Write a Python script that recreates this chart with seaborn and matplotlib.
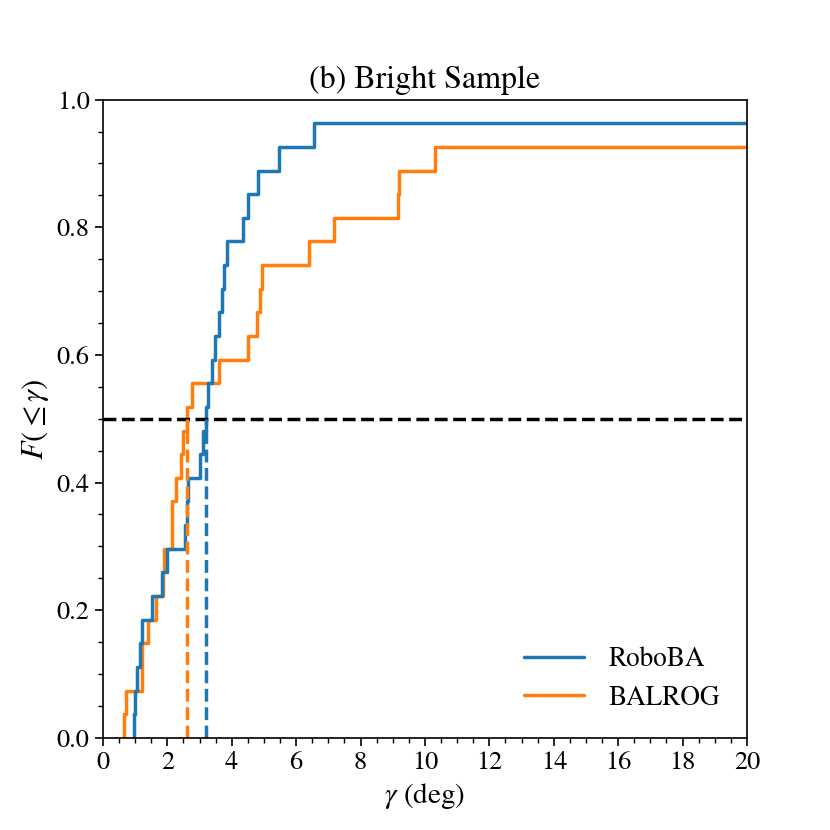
import numpy as np
import pandas as pd
import matplotlib
matplotlib.use("Agg")
import matplotlib.pyplot as plt
import seaborn as sns
from matplotlib.ticker import MultipleLocator

# offset angles (deg), one value per burst; values beyond 20 deg are off-axis
roboba = [0.97, 1.0, 1.05, 1.15, 1.2, 1.52, 1.82, 1.98, 2.55, 2.6, 2.65, 3.0, 3.1, 3.2,
          3.25, 3.4, 3.48, 3.6, 3.71, 3.76, 3.84, 4.34, 4.49, 4.82, 5.47, 6.56, 35.0]
balrog = [0.65, 0.73, 1.2, 1.22, 1.41, 1.66, 1.87, 1.9, 2.13, 2.16, 2.28, 2.42, 2.5, 2.62,
          2.78, 3.6, 4.49, 4.79, 4.89, 4.95, 6.4, 7.18, 9.15, 9.2, 10.3, 28.0, 40.0]

df = pd.DataFrame({
    'gamma': roboba + balrog,
    'method': ['RoboBA'] * len(roboba) + ['BALROG'] * len(balrog),
})

sns.set_style('ticks')
plt.rcParams['font.family'] = ['STIXGeneral', 'Liberation Serif', 'DejaVu Serif']
plt.rcParams['mathtext.fontset'] = 'stix'
plt.rcParams['font.size'] = 19
for k in ['axes.edgecolor', 'xtick.color', 'ytick.color', 'text.color', 'axes.labelcolor']:
    plt.rcParams[k] = 'black'

colors = {'RoboBA': '#1f77b4', 'BALROG': '#ff7f0e'}
lw = 2.5

fig, ax = plt.subplots(figsize=(8.3, 8.3), dpi=100)
sns.ecdfplot(data=df, x='gamma', hue='method', palette=colors, linewidth=lw,
             hue_order=['RoboBA', 'BALROG'], ax=ax, legend=False)

# medians
ax.axhline(0.5, color='black', linestyle='--', linewidth=lw)
for name, vals in [('RoboBA', roboba), ('BALROG', balrog)]:
    ax.plot([np.median(vals)] * 2, [0, 0.5], color=colors[name], linestyle='--', linewidth=lw)

ax.plot([], [], color=colors['RoboBA'], linewidth=lw, label='RoboBA')
ax.plot([], [], color=colors['BALROG'], linewidth=lw, label='BALROG')
ax.legend(loc='lower right', frameon=False, fontsize=19.5, borderaxespad=0.6,
          handlelength=2.2, handletextpad=0.9, labelspacing=0.5)

ax.set_xlim(0, 20)
ax.set_ylim(0, 1)
ax.xaxis.set_major_locator(MultipleLocator(2))
ax.xaxis.set_minor_locator(MultipleLocator(0.5))
ax.yaxis.set_major_locator(MultipleLocator(0.2))
ax.yaxis.set_minor_locator(MultipleLocator(0.05))
ax.tick_params(which='major', length=6, width=1.2, labelsize=19)
ax.tick_params(which='minor', length=3.5, width=1.0)
for s in ax.spines.values():
    s.set_linewidth(1.2)

ax.set_title('(b) Bright Sample', fontsize=23, pad=8)
ax.set_xlabel(r'$\gamma$ (deg)', fontsize=21)
ax.set_ylabel(r'$F(\leq\gamma)$', fontsize=22)

plt.subplots_adjust(left=0.124, right=0.9, bottom=0.111, top=0.88)
plt.savefig('out.png', dpi=100)
